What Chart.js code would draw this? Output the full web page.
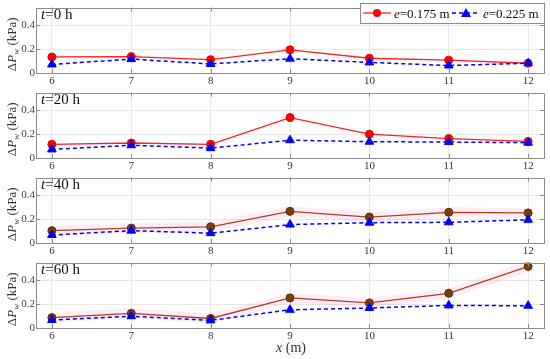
<!DOCTYPE html>
<html><head><meta charset="utf-8">
<script src="https://cdn.jsdelivr.net/npm/chart.js@4"></script>
<style>
html,body{margin:0;padding:0;background:#fff;width:550px;height:359px;overflow:hidden;}
canvas{position:absolute;left:0;}
</style></head><body>
<canvas id="c0" width="550" height="85" style="top:0px"></canvas>
<canvas id="c1" width="550" height="85" style="top:85px"></canvas>
<canvas id="c2" width="550" height="85" style="top:170px"></canvas>
<canvas id="c3" width="550" height="104" style="top:255px"></canvas>
<script>
// ---- data ----
const xPositions = [6, 7, 8, 9, 10, 11, 12];
const xTickLabels = ['6', '7', '8', '9', '10', '11', '12'];
const yTickValues = [0, 0.2, 0.4];
const yTickLabels = ['0', '0.2', '0.4'];
const panelHours = ['0', '20', '40', '60'];
const seriesNames = ['e=0.175 m', 'e=0.225 m'];

const e175_t0  = [0.135, 0.138, 0.112, 0.195, 0.124, 0.108, 0.082];
const e225_t0  = [0.072, 0.117, 0.076, 0.120, 0.089, 0.063, 0.082];
const e175_t20 = [0.115, 0.126, 0.115, 0.340, 0.200, 0.163, 0.139];
const e225_t20 = [0.072, 0.107, 0.083, 0.150, 0.137, 0.134, 0.129];
const e175_t40 = [0.104, 0.125, 0.136, 0.266, 0.218, 0.258, 0.253];
const e225_t40 = [0.067, 0.104, 0.083, 0.155, 0.171, 0.174, 0.195];
const e175_t60 = [0.088, 0.123, 0.080, 0.253, 0.211, 0.292, 0.518];
const e225_t60 = [0.067, 0.099, 0.064, 0.153, 0.168, 0.190, 0.187];

const SERIF = "'Liberation Serif', 'Times New Roman', serif";
Chart.defaults.font.family = SERIF;

function drawSegments(ctx, segs, x, y) {
  let cx = x;
  for (const s of segs) {
    ctx.font = s.font;
    ctx.fillText(s.text, cx, y + (s.dy || 0));
    cx += ctx.measureText(s.text).width;
  }
  return cx;
}
function segWidth(ctx, segs) {
  let w = 0;
  for (const s of segs) { ctx.font = s.font; w += ctx.measureText(s.text).width; }
  return w;
}

const framePlugin = {
  id: 'frame',
  afterDatasetsDraw(chart) {
    const {ctx, chartArea: a, scales} = chart;
    ctx.save();
    ctx.strokeStyle = '#8c8c8c';
    ctx.lineWidth = 1;
    ctx.strokeRect(Math.round(a.left) + 0.5, Math.round(a.top) + 0.5, Math.round(a.right - a.left), Math.round(a.bottom - a.top));
    ctx.beginPath();
    for (const v of xPositions) {
      const px = Math.round(scales.x.getPixelForValue(v)) + 0.5;
      ctx.moveTo(px, a.bottom); ctx.lineTo(px, a.bottom - 4);
      ctx.moveTo(px, a.top); ctx.lineTo(px, a.top + 4);
    }
    for (const v of yTickValues) {
      const py = Math.round(scales.y.getPixelForValue(v)) + 0.5;
      ctx.moveTo(a.left, py); ctx.lineTo(a.left + 4, py);
      ctx.moveTo(a.right, py); ctx.lineTo(a.right - 4, py);
    }
    ctx.stroke();
    ctx.restore();
  },
  afterDraw(chart) {
    const {ctx, chartArea: a} = chart;
    const o = chart.options.plugins.frameText;
    ctx.save();
    ctx.fillStyle = '#111';
    ctx.textBaseline = 'alphabetic';
    // panel title
    drawSegments(ctx, [
      {text: 't', font: 'italic 15px ' + SERIF},
      {text: '=' + o.hours + ' h', font: '15px ' + SERIF}
    ], a.left + 5, a.top + 11);
    // y title rotated
    const ySegs = [
      {text: 'Δ', font: '13px ' + SERIF},
      {text: 'P', font: 'italic 13px ' + SERIF},
      {text: 'w', font: 'italic 9px ' + SERIF, dy: 2.5},
      {text: ' (kPa)', font: '13px ' + SERIF}
    ];
    ctx.save();
    ctx.translate(16, (a.top + a.bottom) / 2 + 4);
    ctx.rotate(-Math.PI / 2);
    ctx.fillStyle = '#333';
    drawSegments(ctx, ySegs, -segWidth(ctx, ySegs) / 2, 0);
    ctx.restore();
    // x title on last panel
    if (o.isLast) {
      const xs = [
        {text: 'x', font: 'italic 14px ' + SERIF},
        {text: ' (m)', font: '14px ' + SERIF}
      ];
      ctx.fillStyle = '#333';
      drawSegments(ctx, xs, 291 - segWidth(ctx, xs) / 2, 97);
    }
    // legend on first panel
    if (o.legend) {
      const L = 360, T = 3, R = 544, B = 23, cy = 13;
      ctx.fillStyle = '#fff';
      ctx.fillRect(L, T, R - L, B - T);
      ctx.strokeStyle = '#8c8c8c';
      ctx.lineWidth = 1;
      ctx.strokeRect(L + 0.5, T + 0.5, R - L, B - T);
      // red entry
      ctx.strokeStyle = '#ff1f1f'; ctx.lineWidth = 1.3;
      ctx.beginPath(); ctx.moveTo(363, cy); ctx.lineTo(391, cy); ctx.stroke();
      ctx.fillStyle = '#ff0000';
      ctx.beginPath(); ctx.arc(377, cy, 4, 0, Math.PI * 2); ctx.fill();
      ctx.fillStyle = '#111';
      drawSegments(ctx, [
        {text: 'e', font: 'italic 13px ' + SERIF},
        {text: seriesNames[0].slice(1), font: '13px ' + SERIF}
      ], 394, cy + 4.5);
      // blue entry
      ctx.strokeStyle = '#0000ff'; ctx.lineWidth = 1.5; ctx.setLineDash([4, 3]);
      ctx.beginPath(); ctx.moveTo(452, cy); ctx.lineTo(480, cy); ctx.stroke();
      ctx.setLineDash([]);
      ctx.fillStyle = '#0000ff';
      ctx.beginPath(); ctx.moveTo(466, cy - 5); ctx.lineTo(471, cy + 4); ctx.lineTo(461, cy + 4); ctx.closePath(); ctx.fill();
      ctx.fillStyle = '#111';
      drawSegments(ctx, [
        {text: 'e', font: 'italic 13px ' + SERIF},
        {text: seriesNames[1].slice(1), font: '13px ' + SERIF}
      ], 483, cy + 4.5);
    }
    ctx.restore();
  }
};

function pts(arr) { return xPositions.map((x, i) => ({x: x, y: arr[i]})); }

function makePanel(idx, red, blue, shaded, isLast) {
  const redLine = shaded ? '#a5451a' : '#ff1f1f';
  const redFill = shaded ? '#7f3d06' : '#ff0000';
  const redBorder = shaded ? '#5c2c02' : '#ee0000';
  const datasets = [
    {data: pts(blue), borderColor: '#0000ff', borderWidth: 1.5, borderDash: [4, 3],
     pointStyle: 'triangle', pointRadius: 5, pointBackgroundColor: '#0000ff', pointBorderColor: '#0000ff', pointBorderWidth: 1},
    {data: pts(red), borderColor: redLine, borderWidth: 1.3,
     pointStyle: 'circle', pointRadius: 4, pointBackgroundColor: redFill, pointBorderColor: redBorder, pointBorderWidth: 1}
  ];
  if (shaded) {
    datasets.push({data: pts(red), borderColor: 'rgba(255,70,190,0.10)', borderWidth: 10, pointRadius: 0});
  }
  new Chart(document.getElementById('c' + idx), {
    type: 'line',
    data: {datasets: datasets},
    options: {
      responsive: false, animation: false, devicePixelRatio: 1,
      layout: {padding: {left: 0, right: 5, top: 3, bottom: isLast ? 19 : 0}},
      plugins: {
        legend: {display: false}, tooltip: {enabled: false},
        frameText: {hours: panelHours[idx], isLast: isLast, legend: idx === 0}
      },
      scales: {
        x: {
          type: 'linear', min: 5.8, max: 12.2,
          afterBuildTicks: s => { s.ticks = xPositions.map(v => ({value: v})); },
          afterFit: s => { s.height = 12; },
          grid: {color: '#e8e8e8', drawTicks: false},
          border: {display: false},
          ticks: {padding: 2, color: '#333', font: {size: 11}, maxRotation: 0,
                  callback: (v, i) => xTickLabels[i]}
        },
        y: {
          min: 0, max: 0.55,
          afterBuildTicks: s => { s.ticks = yTickValues.map(v => ({value: v})); },
          afterFit: s => { s.width = 36; },
          grid: {color: '#e8e8e8', drawTicks: false},
          border: {display: false},
          ticks: {padding: 1, color: '#444', font: {size: 11},
                  callback: (v, i) => yTickLabels[i]}
        }
      }
    },
    plugins: [framePlugin]
  });
}

makePanel(0, e175_t0, e225_t0, false, false);
makePanel(1, e175_t20, e225_t20, false, false);
makePanel(2, e175_t40, e225_t40, true, false);
makePanel(3, e175_t60, e225_t60, true, true);
</script>
</body></html>
